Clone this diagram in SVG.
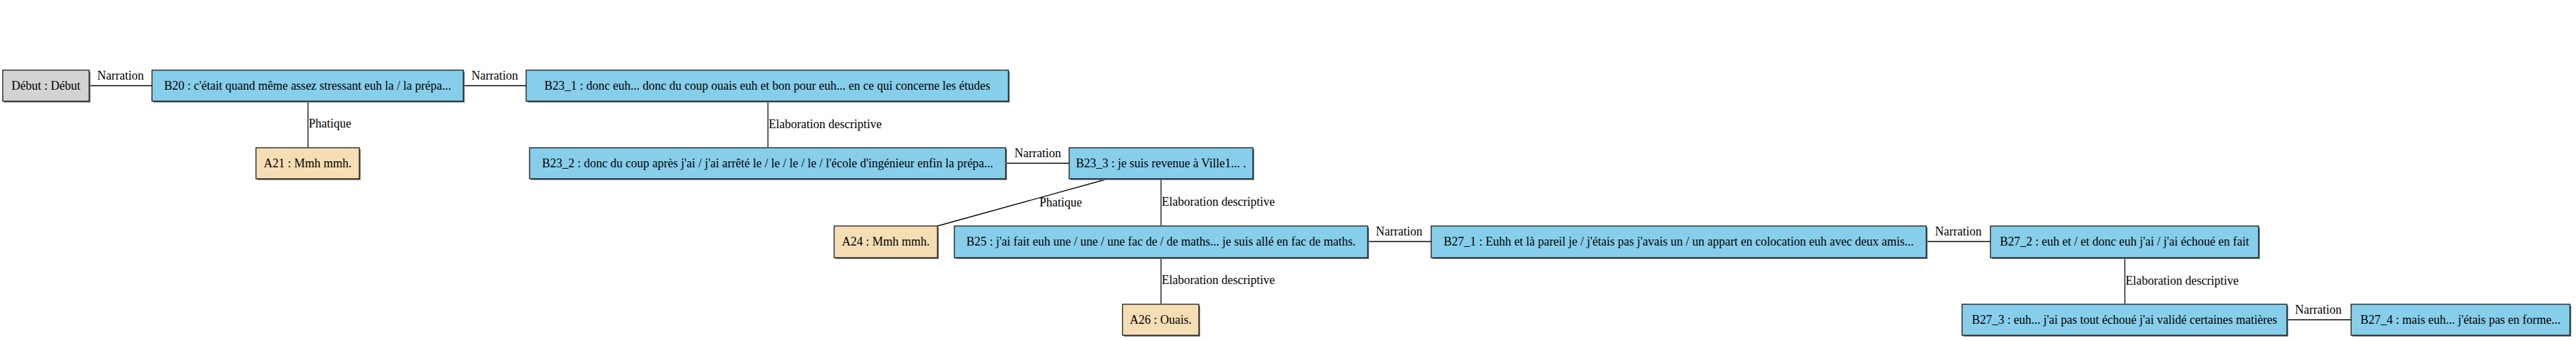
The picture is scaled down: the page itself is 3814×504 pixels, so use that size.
<svg xmlns="http://www.w3.org/2000/svg" width="3814" height="504" viewBox="0 0 3814 504">
<style>
.bg{fill:#ffffff}
.box{stroke:#000000;stroke-width:1.2}
.sh{fill:#7f7f7f}
.b{fill:#87CEEB}
.a{fill:#F5DEB3}
.d{fill:#D3D3D3}
.t{font-family:"Liberation Serif","Times New Roman",serif;font-size:18px;fill:#000000;text-anchor:middle}
.lbl{font-family:"Liberation Serif","Times New Roman",serif;font-size:18px;fill:#000000}
.e{stroke:#000000;stroke-width:1.3;fill:none}
</style>
<rect class="bg" x="0" y="0" width="3814" height="504"/>
<g id="connectors">
<line class="e" x1="133" y1="127" x2="225" y2="127"/>
<text class="lbl" x="144" y="118">Narration</text>
<line class="e" x1="686" y1="127" x2="779" y2="127"/>
<text class="lbl" x="698" y="118">Narration</text>
<line class="e" x1="456" y1="151" x2="456" y2="218"/>
<text class="lbl" x="457" y="189">Phatique</text>
<line class="e" x1="1137" y1="151" x2="1137" y2="218"/>
<text class="lbl" x="1138" y="190">Elaboration descriptive</text>
<line class="e" x1="1490" y1="242" x2="1583" y2="242"/>
<text class="lbl" x="1502" y="233">Narration</text>
<line class="e" x1="1637" y1="266" x2="1388" y2="335"/>
<text class="lbl" x="1539" y="306">Phatique</text>
<line class="e" x1="1719" y1="266" x2="1719" y2="334"/>
<text class="lbl" x="1720" y="305">Elaboration descriptive</text>
<line class="e" x1="1719" y1="382" x2="1719" y2="450"/>
<text class="lbl" x="1720" y="421">Elaboration descriptive</text>
<line class="e" x1="2026" y1="358" x2="2119" y2="358"/>
<text class="lbl" x="2037" y="349">Narration</text>
<line class="e" x1="2853" y1="358" x2="2947" y2="358"/>
<text class="lbl" x="2865" y="349">Narration</text>
<line class="e" x1="3146" y1="382" x2="3146" y2="450"/>
<text class="lbl" x="3147" y="422">Elaboration descriptive</text>
<line class="e" x1="3387" y1="474" x2="3481" y2="474"/>
<text class="lbl" x="3398" y="465">Narration</text>
</g>
<g id="debut">
<rect class="sh" x="6" y="106" width="128" height="46"/>
<rect class="box d" x="4" y="104" width="128" height="46"/>
<text class="t" x="68" y="133">Début : Début</text>
</g>
<g id="B20">
<rect class="sh" x="227" y="106" width="461" height="46"/>
<rect class="box b" x="225" y="104" width="461" height="46"/>
<text class="t" x="455.5" y="133">B20 : c'était quand même assez stressant euh la / la prépa...</text>
</g>
<g id="A21">
<rect class="sh" x="381" y="221" width="153" height="46"/>
<rect class="box a" x="379" y="219" width="153" height="46"/>
<text class="t" x="455.5" y="248">A21 : Mmh mmh.</text>
</g>
<g id="B23_1">
<rect class="sh" x="781" y="106" width="714" height="46"/>
<rect class="box b" x="779" y="104" width="714" height="46"/>
<text class="t" x="1136" y="133">B23_1 : donc euh... donc du coup ouais euh et bon pour euh... en ce qui concerne les études</text>
</g>
<g id="B23_2">
<rect class="sh" x="786" y="221" width="705" height="46"/>
<rect class="box b" x="784" y="219" width="705" height="46"/>
<text class="t" x="1136.5" y="248">B23_2 : donc du coup après j'ai / j'ai arrêté le / le / le / le / l'école d'ingénieur enfin la prépa...</text>
</g>
<g id="B23_3">
<rect class="sh" x="1585" y="221" width="272" height="46"/>
<rect class="box b" x="1583" y="219" width="272" height="46"/>
<text class="t" x="1719" y="248">B23_3 : je suis revenue à Ville1... .</text>
</g>
<g id="A24">
<rect class="sh" x="1237" y="337" width="153" height="47"/>
<rect class="box a" x="1235" y="335" width="153" height="47"/>
<text class="t" x="1311.5" y="364">A24 : Mmh mmh.</text>
</g>
<g id="B25">
<rect class="sh" x="1415" y="337" width="612" height="47"/>
<rect class="box b" x="1413" y="335" width="612" height="47"/>
<text class="t" x="1719" y="364">B25 : j'ai fait euh une / une / une fac de / de maths... je suis allé en fac de maths.</text>
</g>
<g id="A26">
<rect class="sh" x="1664" y="453" width="113" height="46"/>
<rect class="box a" x="1662" y="451" width="113" height="46"/>
<text class="t" x="1718.5" y="480">A26 : Ouais.</text>
</g>
<g id="B27_1">
<rect class="sh" x="2121" y="337" width="733" height="47"/>
<rect class="box b" x="2119" y="335" width="733" height="47"/>
<text class="t" x="2485.5" y="364">B27_1 : Euhh et là pareil je / j'étais pas j'avais un / un appart en colocation euh avec deux amis...</text>
</g>
<g id="B27_2">
<rect class="sh" x="2949" y="337" width="397" height="47"/>
<rect class="box b" x="2947" y="335" width="397" height="47"/>
<text class="t" x="3145.5" y="364">B27_2 : euh et / et donc euh j'ai / j'ai échoué en fait</text>
</g>
<g id="B27_3">
<rect class="sh" x="2907" y="453" width="481" height="46"/>
<rect class="box b" x="2905" y="451" width="481" height="46"/>
<text class="t" x="3145.5" y="480">B27_3 : euh... j'ai pas tout échoué j'ai validé certaines matières</text>
</g>
<g id="B27_4">
<rect class="sh" x="3483" y="453" width="324" height="46"/>
<rect class="box b" x="3481" y="451" width="324" height="46"/>
<text class="t" x="3643" y="480">B27_4 : mais euh... j'étais pas en forme...</text>
</g>
</svg>
